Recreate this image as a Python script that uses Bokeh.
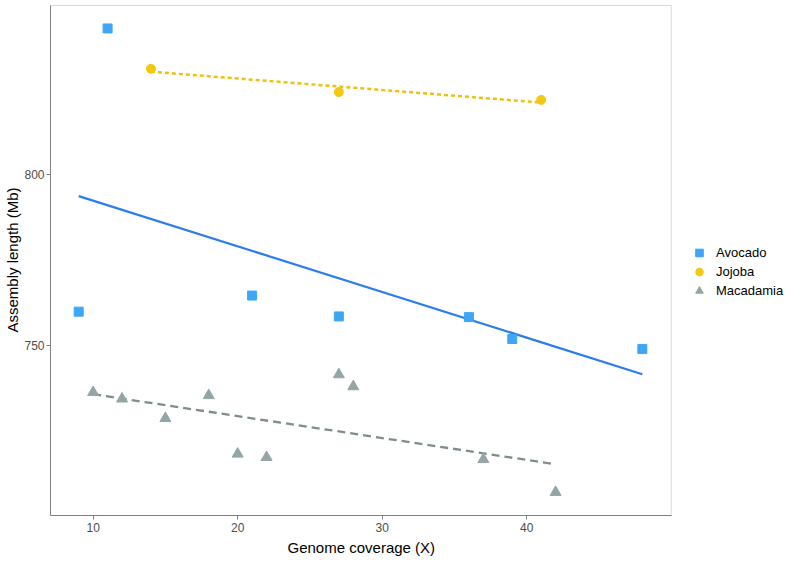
import numpy as np
from bokeh.plotting import figure
from bokeh.models import Range1d, FixedTicker, Legend, LegendItem, BoxAnnotation, Title
from bokeh.embed import file_html
from bokeh.resources import INLINE

# ---- data ----
avocado_x = [9, 11, 21, 27, 36, 39, 48]
avocado_y = [760.0, 842.8, 764.7, 758.6, 758.4, 752.0, 749.1]

jojoba_x = [14, 27, 41]
jojoba_y = [831.0, 824.2, 821.9]

macadamia_x = [10, 12, 15, 18, 20, 22, 27, 28, 37, 42]
macadamia_y = [736.4, 734.5, 728.8, 735.5, 718.4, 717.4, 741.6, 738.1, 716.8, 707.2]

x_ticks = [10, 20, 30, 40]
y_ticks = [750, 800]

# panel limits (data units) and the extra room kept on the right for the legend
X_MIN, X_MAX = 7.05, 50.0
Y_MIN, Y_MAX = 700.4, 849.5
X_FRAME_MAX = 58.39
Y_FRAME_MAX = 849.8

FONT = "Liberation Sans"
BORDER = "#7f7f7f"

p = figure(width=792, height=578, output_backend="svg", toolbar_location=None,
           x_range=Range1d(X_MIN, X_FRAME_MAX), y_range=Range1d(Y_MIN, Y_FRAME_MAX),
           min_border_left=50, min_border_right=0, min_border_top=4, min_border_bottom=63)

p.background_fill_color = "white"
p.border_fill_color = "white"
p.outline_line_color = None
p.xgrid.visible = False
p.ygrid.visible = False

for ax in (p.xaxis[0], p.yaxis[0]):
    ax.axis_line_color = BORDER
    ax.major_tick_line_color = BORDER
    ax.minor_tick_line_color = None
    ax.major_tick_in = 0
    ax.major_tick_out = 4
    ax.major_label_text_font = FONT
    ax.major_label_text_font_size = "12px"
    ax.major_label_text_color = "#4d4d4d"
    ax.axis_label_text_font = FONT
    ax.axis_label_text_font_size = "15px"
    ax.axis_label_text_font_style = "normal"
    ax.axis_label_text_color = "black"

p.xaxis.bounds = (X_MIN, X_MAX)
p.yaxis.bounds = (Y_MIN, Y_MAX)
p.xaxis.ticker = FixedTicker(ticks=x_ticks)
p.yaxis.ticker = FixedTicker(ticks=y_ticks)
p.yaxis.axis_label = "Assembly length (Mb)"
p.xaxis.major_label_standoff = 3
p.yaxis.major_label_standoff = 2
p.yaxis.axis_label_standoff = 0

# x axis title, centred under the panel (not under the legend area)
p.add_layout(Title(text="Genome coverage (X)", align="left", offset=237,
                   text_font=FONT, text_font_size="15px", text_font_style="normal",
                   text_color="black", standoff=4), "below")

# panel border
p.add_layout(BoxAnnotation(left=X_MIN, right=X_MAX, bottom=Y_MIN, top=Y_MAX,
                           fill_alpha=0, line_color=BORDER, line_width=1))


def fit_line(xs, ys):
    k, b = np.polyfit(np.array(xs, float), np.array(ys, float), 1)
    xx = np.array([min(xs), max(xs)], float)
    return xx, k * xx + b


ax_, ay_ = fit_line(avocado_x, avocado_y)
jx_, jy_ = fit_line(jojoba_x, jojoba_y)
mx_, my_ = fit_line(macadamia_x, macadamia_y)

p.line(ax_, ay_, line_color="#2b7ded", line_width=2.2)
p.line(jx_, jy_, line_color="#f0c00c", line_width=2.5, line_dash="4 3")
p.line(mx_, my_, line_color="#7f8c8d", line_width=2.3, line_dash="8 5")

r_av = p.scatter(avocado_x, avocado_y, marker="square", size=9,
                 fill_color="#3fa6f5", line_color="#3fa6f5")
r_jo = p.scatter(jojoba_x, jojoba_y, marker="circle", size=9,
                 fill_color="#f2c811", line_color="#f2c811")
r_ma = p.scatter(macadamia_x, macadamia_y, marker="triangle", size=11,
                 fill_color="#95a5a6", line_color="#95a5a6")

legend = Legend(items=[LegendItem(label="Avocado", renderers=[r_av]),
                       LegendItem(label="Jojoba", renderers=[r_jo]),
                       LegendItem(label="Macadamia", renderers=[r_ma])],
                location=(639, 215))
legend.border_line_alpha = 0
legend.background_fill_alpha = 0
legend.padding = 0
legend.margin = 0
legend.spacing = 0
legend.glyph_width = 20
legend.glyph_height = 19
legend.label_height = 19
legend.label_standoff = 7
legend.label_text_font = FONT
legend.label_text_font_size = "13px"
legend.label_text_color = "black"
p.add_layout(legend, "center")

open("out.html", "w").write(file_html(p, INLINE))
